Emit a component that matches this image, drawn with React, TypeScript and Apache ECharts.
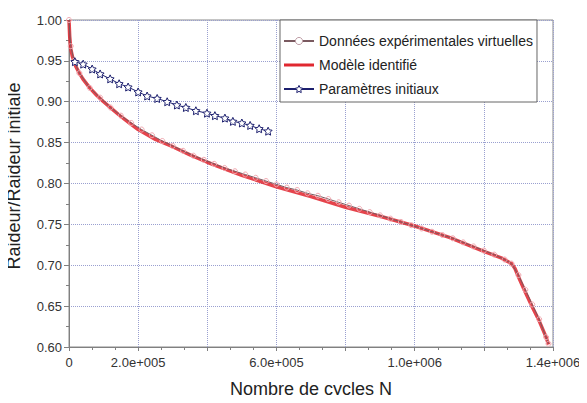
import React, { useEffect, useRef } from "react";
import * as echarts from "echarts";

// Cycles N
const EXP_N = [0, 5e3, 1.5e4, 3e4, 6e4, 9e4, 1.2e5, 1.5e5, 1.8e5, 2.1e5, 2.4e5, 2.7e5, 3.0e5, 3.3e5, 3.6e5, 3.9e5, 4.2e5, 4.5e5, 4.8e5, 5.1e5, 5.4e5, 5.7e5, 6.0e5, 6.3e5, 6.6e5, 6.9e5, 7.2e5, 7.5e5, 7.8e5, 8.1e5, 8.4e5, 8.7e5, 9.0e5, 9.3e5, 9.6e5, 9.9e5, 1.02e6, 1.05e6, 1.08e6, 1.11e6, 1.14e6, 1.17e6, 1.2e6, 1.23e6, 1.26e6, 1.28e6, 1.3e6, 1.32e6, 1.34e6, 1.36e6, 1.38e6, 1.387e6];
const EXP_K = [1.0, 0.968, 0.95, 0.935, 0.917, 0.905, 0.893, 0.883, 0.874, 0.866, 0.859, 0.852, 0.846, 0.84, 0.834, 0.829, 0.824, 0.819, 0.815, 0.811, 0.807, 0.803, 0.799, 0.795, 0.792, 0.788, 0.785, 0.781, 0.777, 0.773, 0.769, 0.765, 0.761, 0.757, 0.753, 0.749, 0.745, 0.741, 0.737, 0.733, 0.728, 0.723, 0.718, 0.713, 0.707, 0.702, 0.688, 0.67, 0.652, 0.634, 0.612, 0.604];

const MODEL_N = [0, 2e3, 5e3, 1e4, 2e4, 3e4, 4e4, 6e4, 8e4, 1e5, 1.25e5, 1.5e5, 1.75e5, 2e5, 2.25e5, 2.5e5, 3e5, 3.5e5, 4e5, 4.5e5, 5e5, 5.5e5, 6e5, 7e5, 8e5, 9e5, 1e6, 1.1e6, 1.2e6, 1.25e6, 1.28e6, 1.29e6, 1.3e6, 1.32e6, 1.34e6, 1.36e6, 1.38e6, 1.387e6];
const MODEL_K = [1.0, 0.98, 0.965, 0.955, 0.943, 0.935, 0.928, 0.917, 0.908, 0.9, 0.891, 0.882, 0.874, 0.866, 0.86, 0.854, 0.845, 0.835, 0.826, 0.818, 0.81, 0.803, 0.796, 0.784, 0.771, 0.76, 0.748, 0.734, 0.717, 0.709, 0.702, 0.696, 0.686, 0.667, 0.649, 0.632, 0.612, 0.603];

const INIT_N = [1.7e4, 4.1e4, 6.7e4, 9.0e4, 1.19e5, 1.45e5, 1.71e5, 2.0e5, 2.26e5, 2.55e5, 2.84e5, 3.12e5, 3.38e5, 3.67e5, 3.99e5, 4.22e5, 4.51e5, 4.74e5, 5.0e5, 5.24e5, 5.5e5, 5.76e5];
const INIT_K = [0.949, 0.946, 0.94, 0.934, 0.928, 0.922, 0.918, 0.912, 0.907, 0.904, 0.9, 0.896, 0.893, 0.889, 0.886, 0.883, 0.88, 0.876, 0.874, 0.871, 0.867, 0.864];

const SERIES_NAMES = ["Données expérimentales virtuelles", "Modèle identifié", "Paramètres initiaux"];
const X_LABEL_VALUES = [0, 2e5, 6e5, 1e6, 1.4e6];
const X_LABEL_TEXTS = ["0", "2.0e+005", "6.0e+005", "1.0e+006", "1.4e+006"];
const X_TITLE = "Nombre de cycles N";
const Y_TITLE = "Raideur/Raideur initiale";

const STAR = "path://M0,-10 L2.9,-4 L9.5,-3.1 L4.8,1.5 L5.9,8.1 L0,5 L-5.9,8.1 L-4.8,1.5 L-9.5,-3.1 L-2.9,-4 Z";
const LINE_ICON = "path://M0,0 L30,0 L30,3 L0,3 Z";

const zip = (a: number[], b: number[]) => a.map((v, i) => [v, b[i]]);

export default function App() {
  const ref = useRef<HTMLDivElement>(null);
  useEffect(() => {
    if (!ref.current) return;
    const chart = echarts.init(ref.current, undefined, { renderer: "svg" });
    const font = "Liberation Sans, Arial, sans-serif";
    chart.setOption({
      animation: false,
      backgroundColor: "#fff",
      textStyle: { fontFamily: font },
      grid: { left: 69, right: 34, top: 20, bottom: 51, show: true, borderColor: "#8a8a8a", borderWidth: 1, backgroundColor: "transparent" },
      legend: {
        orient: "vertical",
        left: 280,
        top: 20,
        data: [
          { name: SERIES_NAMES[0], itemStyle: { color: "#fff", borderColor: "#c0a0a8", borderWidth: 1 } },
          { name: SERIES_NAMES[1], icon: LINE_ICON },
          { name: SERIES_NAMES[2], itemStyle: { color: "#fff", borderColor: "#1c1f6e", borderWidth: 1 } },
        ],
        itemWidth: 30,
        itemHeight: 9,
        itemGap: 8,
        padding: [13, 4, 5, 3],
        backgroundColor: "#fff",
        borderColor: "#666",
        borderWidth: 1,
        textStyle: { fontSize: 14, color: "#222", fontFamily: font, lineHeight: 16 },
      },
      xAxis: {
        type: "value",
        min: 0,
        max: 1.4e6,
        interval: 2e5,
        name: X_TITLE,
        nameLocation: "middle",
        nameGap: 33,
        nameTextStyle: { fontSize: 18, color: "#222", fontFamily: font },
        axisLine: { show: true, lineStyle: { color: "#808080" } },
        axisTick: { show: true, length: 4, lineStyle: { color: "#808080" } },
        minorTick: { show: true, splitNumber: 3, length: 3, lineStyle: { color: "#808080" } },
        axisLabel: {
          fontSize: 13,
          color: "#333",
          margin: 9,
          showMaxLabel: true,
          formatter: (v: number) => {
            const i = X_LABEL_VALUES.findIndex((x) => Math.abs(x - v) < 1);
            return i >= 0 ? X_LABEL_TEXTS[i] : "";
          },
        },
        splitLine: { show: true, lineStyle: { color: "#9aa0d0", type: "dotted", width: 1 } },
      },
      yAxis: {
        type: "value",
        min: 0.6,
        max: 1.0,
        interval: 0.05,
        axisLine: { show: true, lineStyle: { color: "#808080" } },
        axisTick: { show: true, length: 5, lineStyle: { color: "#808080" } },
        minorTick: { show: true, splitNumber: 2, length: 3, lineStyle: { color: "#808080" } },
        axisLabel: { fontSize: 13, color: "#333", margin: 7, formatter: (v: number) => v.toFixed(2) },
        splitLine: { show: true, lineStyle: { color: "#9aa0d0", type: "dotted", width: 1 } },
      },
      graphic: [
        {
          type: "text",
          x: 14,
          y: 176,
          rotation: Math.PI / 2,
          style: { text: Y_TITLE, font: `18px ${font}`, fill: "#222", textAlign: "center", textVerticalAlign: "middle" },
        },
      ],
      series: [
        {
          name: SERIES_NAMES[0],
          type: "line",
          z: 3,
          data: zip(EXP_N, EXP_K),
          symbol: "circle",
          symbolSize: 5,
          showSymbol: true,
          itemStyle: { color: "rgba(255,255,255,0)", borderColor: "#f0a8b0", borderWidth: 1 },
          lineStyle: { color: "#7a5a60", width: 1 },
        },
        {
          name: SERIES_NAMES[1],
          type: "line",
          z: 2,
          data: zip(MODEL_N, MODEL_K),
          showSymbol: false,
          symbol: "none",
          itemStyle: { color: "#e02830" },
          lineStyle: { color: "rgba(225,35,45,0.85)", width: 3.5 },
        },
        {
          name: SERIES_NAMES[2],
          type: "line",
          z: 4,
          data: zip(INIT_N, INIT_K),
          symbol: STAR,
          symbolSize: 8,
          showSymbol: true,
          itemStyle: { color: "#ffffff", borderColor: "#1c1f6e", borderWidth: 1 },
          lineStyle: { color: "#1c1f6e", width: 1 },
        },
      ],
    });
    return () => chart.dispose();
  }, []);
  return <div ref={ref} style={{ width: 587, height: 403, margin: -8 }} />;
}
